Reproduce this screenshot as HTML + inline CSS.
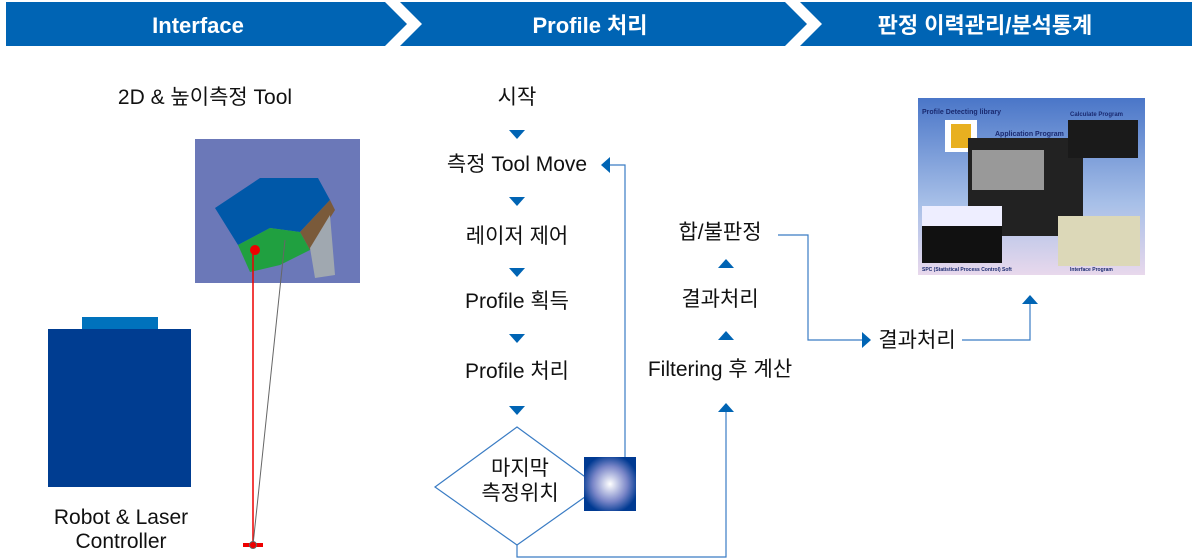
<!DOCTYPE html>
<html><head><meta charset="utf-8"><style>
html,body{margin:0;padding:0;background:#fff;width:1200px;height:560px;overflow:hidden}
svg text{font-family:"Liberation Sans","Noto Sans CJK KR",sans-serif}
</style></head><body>
<svg width="1200" height="560" viewBox="0 0 1200 560" xmlns="http://www.w3.org/2000/svg">
<defs>
<radialGradient id="sph" cx="50%" cy="50%" r="55%"><stop offset="0" stop-color="#fff"/><stop offset="0.6" stop-color="#7a86c8"/><stop offset="1" stop-color="#003a92"/></radialGradient>
<linearGradient id="scr" x1="0" y1="0" x2="0" y2="1"><stop offset="0" stop-color="#4a76c8"/><stop offset="0.6" stop-color="#a8c0e8"/><stop offset="1" stop-color="#e8d8ec"/></linearGradient>
</defs>
<polygon points="6,2 385,2 407,24 385,46 6,46" fill="#0064b4"/>
<polygon points="400,2 785,2 807,24 785,46 400,46 422,24" fill="#0064b4"/>
<polygon points="800,2 1192,2 1192,46 800,46 822,24" fill="#0064b4"/>
<g fill="#fff" font-weight="bold" font-size="22" text-anchor="middle">
<text x="198" y="33">Interface</text>
<text x="590" y="33">Profile 처리</text>
<text x="985" y="33">판정 이력관리/분석통계</text>
</g>
<g font-size="21" fill="#111" text-anchor="middle">
<text x="205" y="104">2D &amp; 높이측정 Tool</text>
<text x="121" y="524">Robot &amp; Laser</text>
<text x="121" y="548">Controller</text>
</g>
<rect x="195" y="139" width="165" height="144" fill="#6b78b8"/>
<polygon points="215,208 260,178 318,178 330,200 300,232 270,228 238,245" fill="#0058a8"/>
<polygon points="300,232 330,200 335,210 310,250" fill="#7a5a3a"/>
<polygon points="238,245 270,228 300,232 310,250 280,265 250,272" fill="#20a040"/>
<polygon points="310,248 330,215 335,275 315,278" fill="#a0a8b0"/>
<line x1="253" y1="248" x2="253" y2="545" stroke="#e00" stroke-width="1.5"/>
<line x1="285" y1="240" x2="253" y2="545" stroke="#666" stroke-width="1"/>
<circle cx="255" cy="250" r="5" fill="#e00"/>
<rect x="243" y="543" width="20" height="4" fill="#e00"/>
<circle cx="253" cy="545" r="3.5" fill="#e00" stroke="#666"/>
<rect x="82" y="317" width="76" height="13" fill="#0072bc"/>
<rect x="48" y="329" width="143" height="158" fill="#003d91"/>
<g fill="none" stroke="#3a7cc4" stroke-width="1.2">
<polygon points="517,427 599,487 517,545 435,487" fill="#fff"/>
<polyline points="517,545 517,557 726,557 726,410"/>
<polyline points="625,458 625,165 609,165"/>
<polyline points="778,235 808,235 808,340 863,340"/>
<polyline points="962,340 1030,340 1030,302"/>
</g>
<g font-size="21" fill="#111" text-anchor="middle">
<text x="517" y="104">시작</text>
<text x="517" y="171">측정 Tool Move</text>
<text x="517" y="243">레이저 제어</text>
<text x="517" y="308">Profile 획득</text>
<text x="517" y="378">Profile 처리</text>
<text x="520" y="475">마지막</text>
<text x="520" y="500">측정위치</text>
<text x="720" y="239">합/불판정</text>
<text x="720" y="306">결과처리</text>
<text x="720" y="376">Filtering 후 계산</text>
<text x="917" y="347">결과처리</text>
</g>
<g fill="#0064b4">
<polygon points="509,130 525,130 517,139"/>
<polygon points="509,197 525,197 517,206"/>
<polygon points="509,268 525,268 517,277"/>
<polygon points="509,334 525,334 517,343"/>
<polygon points="509,406 525,406 517,415"/>
<polygon points="718,412 734,412 726,403"/>
<polygon points="718,340 734,340 726,331"/>
<polygon points="718,268 734,268 726,259"/>
<polygon points="1022,304 1038,304 1030,295"/>
<polygon points="862,332 862,348 871,340"/>
<polygon points="610,157 610,173 601,165"/>
</g>
<rect x="584" y="457" width="52" height="54" fill="url(#sph)"/>
<rect x="918" y="98" width="227" height="177" fill="url(#scr)"/>
<text x="922" y="114" font-size="7" font-weight="bold" fill="#1a2a70" font-family="Liberation Serif">Profile Detecting library</text>
<rect x="945" y="120" width="32" height="32" fill="#fff"/><rect x="951" y="124" width="20" height="24" fill="#e8b020"/>
<rect x="968" y="138" width="115" height="98" fill="#222"/>
<rect x="972" y="150" width="72" height="40" fill="#999"/>
<text x="995" y="136" font-size="7" font-weight="bold" fill="#1a2a70" font-family="Liberation Serif">Application Program</text>
<rect x="1068" y="120" width="70" height="38" fill="#1a1a1a"/>
<text x="1070" y="116" font-size="6" font-weight="bold" fill="#1a2a70" font-family="Liberation Serif">Calculate Program</text>
<rect x="922" y="206" width="80" height="57" fill="#111"/><rect x="922" y="206" width="80" height="20" fill="#eef"/>
<rect x="1058" y="216" width="82" height="50" fill="#dcd8b8"/>
<text x="922" y="271" font-size="5" font-weight="bold" fill="#1a2a70" font-family="Liberation Serif">SPC (Statistical Process Control) Soft</text>
<text x="1070" y="271" font-size="5" font-weight="bold" fill="#1a2a70" font-family="Liberation Serif">Interface Program</text>
</svg>
</body></html>
